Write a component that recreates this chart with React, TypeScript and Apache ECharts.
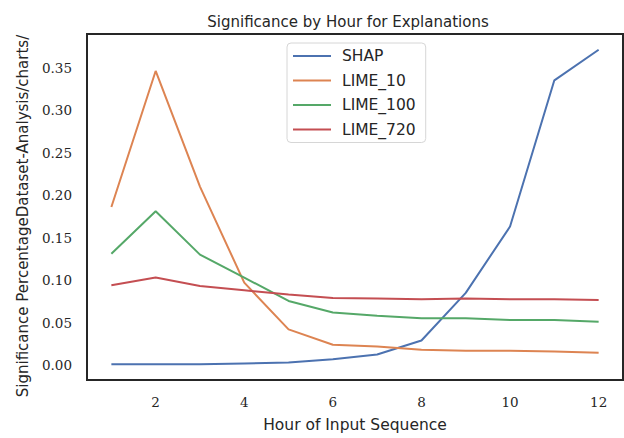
import React, { useEffect, useRef } from "react";
import * as echarts from "echarts";

const hours = [1, 2, 3, 4, 5, 6, 7, 8, 9, 10, 11, 12];
const seriesNames = ["SHAP", "LIME_10", "LIME_100", "LIME_720"];
const shap = [0.001, 0.001, 0.001, 0.002, 0.003, 0.007, 0.0125, 0.029, 0.085, 0.163, 0.335, 0.371];
const lime10 = [0.186, 0.346, 0.21, 0.097, 0.042, 0.024, 0.022, 0.018, 0.017, 0.017, 0.016, 0.0145];
const lime100 = [0.131, 0.181, 0.13, 0.103, 0.0755, 0.062, 0.058, 0.055, 0.055, 0.053, 0.053, 0.051];
const lime720 = [0.094, 0.103, 0.093, 0.088, 0.083, 0.079, 0.0785, 0.0775, 0.0785, 0.0775, 0.0775, 0.0767];
const xTicks = [2, 4, 6, 8, 10, 12];
const yTicks = [0, 0.05, 0.1, 0.15, 0.2, 0.25, 0.3, 0.35];
const colors = ["#4C72B0", "#DD8452", "#55A868", "#C44E52"];

const allValues = [shap, lime10, lime100, lime720];

export default function App() {
  const ref = useRef<HTMLDivElement>(null);
  useEffect(() => {
    if (!ref.current) return;
    const chart = echarts.init(ref.current, undefined, { renderer: "svg" });
    const flat = allValues.flat();
    const yMinD = Math.min(...flat);
    const yMaxD = Math.max(...flat);
    const yPad = (yMaxD - yMinD) * 0.05;
    const xPad = (hours[hours.length - 1] - hours[0]) * 0.05;
    const sans = "DejaVu Sans";
    const serif = "DejaVu Serif";
    chart.setOption({
      animation: false,
      color: colors,
      textStyle: { fontFamily: serif, fontSize: 13.5, color: "#262626" },
      title: {
        text: "Significance by Hour for Explanations",
        left: 343,
        textAlign: "center",
        top: 9,
        textStyle: { fontFamily: sans, fontSize: 15, fontWeight: "normal", color: "#262626" },
      },
      graphic: [
        {
          type: "text",
          x: 23,
          y: 216,
          rotation: Math.PI / 2,
          style: {
            text: "Significance PercentageDataset-Analysis/charts/",
            fontFamily: sans,
            fontSize: 15,
            fill: "#262626",
            textAlign: "center",
            textVerticalAlign: "middle",
          },
        },
      ],
      grid: {
        left: 87,
        right: 1,
        top: 34,
        bottom: 52,
        show: true,
        borderColor: "#262626",
        borderWidth: 2,
        backgroundColor: "#ffffff",
      },
      legend: {
        data: seriesNames,
        orient: "vertical",
        left: 287,
        top: 43,
        itemGap: 8.5,
        itemWidth: 38,
        itemHeight: 16,
        padding: [5, 10, 5, 6],
        borderColor: "#d6d6d6",
        borderWidth: 1,
        borderRadius: 4,
        icon: "path://M0,7 L38,7 L38,9 L0,9 Z",
        textStyle: { fontFamily: sans, fontSize: 15.5, color: "#262626", padding: [0, 0, 0, 6] },
      },
      xAxis: {
        type: "value",
        min: hours[0] - xPad,
        max: hours[hours.length - 1] + xPad,
        name: "Hour of Input Sequence",
        nameLocation: "middle",
        nameGap: 37,
        nameTextStyle: { fontFamily: sans, fontSize: 15.5, color: "#262626" },
        axisLine: { show: false },
        axisTick: { show: false },
        splitLine: { show: false },
        axisLabel: {
          customValues: xTicks,
          margin: 15,
          fontFamily: serif,
          fontSize: 13.5,
          color: "#262626",
        },
      },
      yAxis: {
        type: "value",
        min: yMinD - yPad,
        max: yMaxD + yPad,
        axisLine: { show: false },
        axisTick: { show: false },
        splitLine: { show: false },
        axisLabel: {
          customValues: yTicks,
          margin: 15,
          fontFamily: serif,
          fontSize: 13.5,
          color: "#262626",
          formatter: (v: number) => v.toFixed(2),
        },
      },
      series: seriesNames.map((name, i) => ({
        name,
        type: "line",
        data: hours.map((h, j) => [h, allValues[i][j]]),
        showSymbol: false,
        lineStyle: { width: 2, color: colors[i] },
        itemStyle: { color: colors[i] },
      })),
    });
    return () => chart.dispose();
  }, []);
  return <div ref={ref} style={{ width: 624, height: 438, position: "absolute", left: 0, top: 0 }} />;
}
